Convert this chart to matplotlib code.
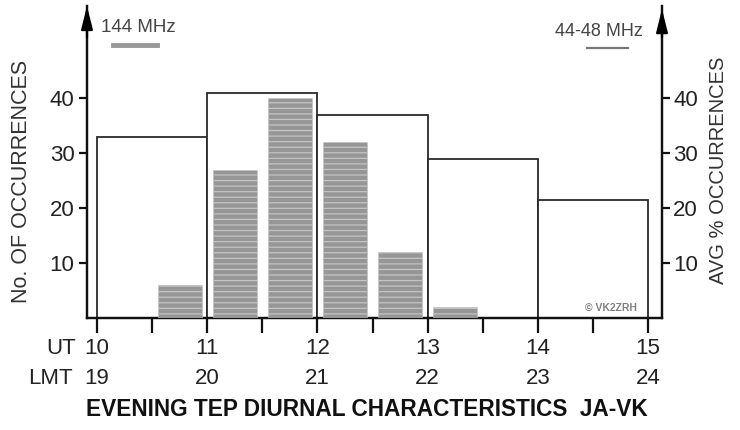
import matplotlib
matplotlib.use("Agg")
import matplotlib.pyplot as plt
from matplotlib.transforms import blended_transform_factory

# ---- data ----
ut_hours = [10, 11, 12, 13, 14, 15]
lmt_hours = [19, 20, 21, 22, 23, 24]
half_ticks = [10.5, 11.5, 12.5, 13.5, 14.5]

# 44-48 MHz (right axis, AVG % occurrences), hourly bins
band6_start = [10, 11, 12, 13, 14]
band6_vals = [33, 41, 37, 29, 21.5]

# 144 MHz (left axis, No. of occurrences), half-hour bins (centres)
band2_centre = [10.75, 11.25, 11.75, 12.25, 12.75, 13.25]
band2_vals = [6, 27, 40, 32, 12, 2]

yticks = [10, 20, 30, 40]

plt.rcParams['font.family'] = ['Liberation Sans', 'DejaVu Sans']
plt.rcParams['hatch.linewidth'] = 0.9

W, H = 740, 430
fig = plt.figure(figsize=(W / 100, H / 100), dpi=100)

def fx(x):
    return x / W

def fy(y):
    return 1 - y / H

ax_left, ax_right, ax_bot, ax_top = 87, 662, 318, 6
ax = fig.add_axes([fx(ax_left), fy(ax_bot), fx(ax_right - ax_left), (ax_bot - ax_top) / H])
px_per_hour = 110.2
px_per_unit = 5.5
xmin = 10 - (97 - ax_left) / px_per_hour
xmax = 15 + (ax_right - 648) / px_per_hour
ymax = (ax_bot - ax_top) / px_per_unit
ax.set_xlim(xmin, xmax)
ax.set_ylim(0, ymax)

ax2 = ax.twinx()
ax2.set_ylim(0, ymax)

# outlined boxes (44-48 MHz) on right axis
ax2.bar(band6_start, band6_vals, width=1.0, align='edge', facecolor='white',
        edgecolor='#2a2a2a', linewidth=1.3, zorder=1)
ax2.set_zorder(1)
ax.set_zorder(2)
ax.patch.set_visible(False)

# grey hatched bars (144 MHz) on left axis
ax.bar(band2_centre, band2_vals, width=0.4, facecolor='#969696',
       edgecolor='#c4c4c4', linewidth=0.4, hatch='---', zorder=3)

# spines
for a in (ax, ax2):
    a.spines['top'].set_visible(False)
    for s in ('left', 'right', 'bottom'):
        a.spines[s].set_linewidth(1.6)
        a.spines[s].set_color('#111111')

# y ticks
ax.set_yticks(yticks)
ax.tick_params(axis='y', direction='out', length=6, width=1.6, pad=3,
               labelsize=16, labelcolor='#222222', color='#111111')
ax2.set_yticks(yticks)
ax2.tick_params(axis='y', direction='out', length=6, width=1.6, pad=2,
                labelsize=16, labelcolor='#222222', color='#111111')

# x ticks
ax.set_xticks(ut_hours)
ax.set_xticks(half_ticks, minor=True)
ax.tick_params(axis='x', which='both', direction='out', length=11, width=1.6,
               labelbottom=False, color='#111111')
ax2.tick_params(axis='x', which='both', bottom=False, labelbottom=False)

# tick label rows (UT / LMT)
tr = blended_transform_factory(ax.transData, fig.transFigure)
for u, l in zip(ut_hours, lmt_hours):
    ax.text(u, fy(348), str(u), transform=tr, ha='center', va='center',
            fontsize=16, color='#222222', clip_on=False)
    ax.text(u, fy(378), str(l), transform=tr, ha='center', va='center',
            fontsize=16, color='#222222', clip_on=False)
fig.text(fx(76), fy(348), 'UT', ha='right', va='center', fontsize=16, color='#222222')
fig.text(fx(73), fy(378), 'LMT', ha='right', va='center', fontsize=16, color='#222222')

# arrows at top of vertical axes
arrow = dict(arrowstyle='-|>,head_length=1.4,head_width=0.35', lw=1.6,
             color='black', shrinkA=0, shrinkB=0)
ax.annotate('', xy=(0, 1.0), xycoords='axes fraction', xytext=(0, 0.9),
            arrowprops=arrow, annotation_clip=False)
ax.annotate('', xy=(1, 0.99), xycoords='axes fraction', xytext=(1, 0.9),
            arrowprops=arrow, annotation_clip=False)

# axis titles
fig.text(fx(22), fy(181), 'No. OF OCCURRENCES', rotation=90, ha='center',
         va='center', fontsize=15.5, color='#333333')
fig.text(fx(718), fy(170), 'AVG % OCCURRENCES', rotation=90, ha='center',
         va='center', fontsize=14.5, color='#333333')

# legend-like labels
fig.text(fx(138), fy(28), '144 MHz', ha='center', va='center', fontsize=13.5, color='#444444')
fig.add_artist(plt.Line2D([fx(113), fx(157)], [fy(45), fy(45)], color='#999999', lw=3.5,
                          transform=fig.transFigure))
fig.text(fx(599), fy(32), '44-48 MHz', ha='center', va='center', fontsize=13, color='#444444')
fig.add_artist(plt.Line2D([fx(587), fx(628)], [fy(48), fy(48)], color='#777777', lw=1.6,
                          transform=fig.transFigure))

# copyright
fig.text(fx(611), fy(308), '© VK2ZRH', ha='center', va='center', fontsize=7.5,
         fontweight='bold', color='#808080')

# title
fig.text(fx(367), fy(410), 'EVENING TEP DIURNAL CHARACTERISTICS  JA-VK', ha='center',
         va='center', fontsize=16.3, fontweight='bold', color='#111111')

fig.savefig('out.png', dpi=100)
